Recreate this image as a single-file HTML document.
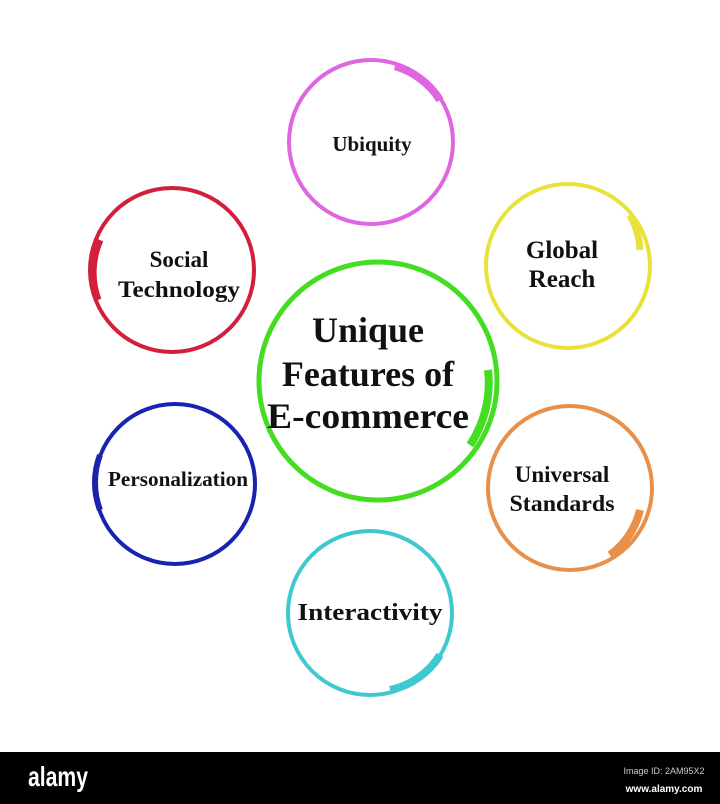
<!DOCTYPE html>
<html><head><meta charset="utf-8"><style>
html,body{margin:0;padding:0;background:#fff;width:720px;height:804px;overflow:hidden}
svg{display:block}
text{font-family:"Liberation Serif",serif;font-weight:bold;fill:#111;text-anchor:middle}
</style></head><body>
<svg width="720" height="804" viewBox="0 0 720 804">
<g fill="none" stroke-width="4">
<circle cx="371" cy="142" r="82" stroke="#e065e0"/>
<path d="M395 66 A80 80 0 0 1 440 100" stroke="#e065e0" stroke-width="8"/>
<circle cx="568" cy="266" r="82" stroke="#e8e23c"/>
<path d="M630 215 A80 80 0 0 1 640 250" stroke="#e8e23c" stroke-width="7"/>
<circle cx="172" cy="270" r="82" stroke="#d2203c"/>
<path d="M100 240 A80 80 0 0 0 98 300" stroke="#d2203c" stroke-width="7"/>
<circle cx="378" cy="381" r="119" stroke="#44dd22" stroke-width="5"/>
<path d="M488 370 A112 112 0 0 1 470 445" stroke="#44dd22" stroke-width="8"/>
<circle cx="175" cy="484" r="80" stroke="#1a22b0"/>
<path d="M100 455 A78 78 0 0 0 100 510" stroke="#1a22b0" stroke-width="6"/>
<circle cx="570" cy="488" r="82" stroke="#e8904a"/>
<path d="M640 510 A78 78 0 0 1 610 555" stroke="#e8904a" stroke-width="8"/>
<circle cx="370" cy="613" r="82" stroke="#40c8d0"/>
<path d="M440 655 A78 78 0 0 1 390 690" stroke="#40c8d0" stroke-width="8"/>
</g>
<text x="372" y="151" font-size="21">Ubiquity</text>
<text x="562" y="258" font-size="25">Global</text>
<text x="562" y="287" font-size="25">Reach</text>
<text x="179" y="267" font-size="23">Social</text>
<text x="179" y="297" font-size="23" textLength="122" lengthAdjust="spacingAndGlyphs">Technology</text>
<text x="368" y="342" font-size="36">Unique</text>
<text x="368" y="386" font-size="36">Features of</text>
<text x="368" y="428" font-size="36" textLength="202" lengthAdjust="spacingAndGlyphs">E-commerce</text>
<text x="178" y="486" font-size="21" textLength="140" lengthAdjust="spacingAndGlyphs">Personalization</text>
<text x="562" y="482" font-size="23">Universal</text>
<text x="562" y="511" font-size="23" textLength="105" lengthAdjust="spacingAndGlyphs">Standards</text>
<text x="370" y="620" font-size="24" textLength="145" lengthAdjust="spacingAndGlyphs">Interactivity</text>
<rect x="0" y="752" width="720" height="52" fill="#000"/>
<text x="58" y="786" font-size="28" textLength="60" lengthAdjust="spacingAndGlyphs" style="fill:#fff;font-family:'Liberation Sans Narrow','Liberation Sans',sans-serif;font-weight:bold">alamy</text>
<text x="664" y="774" font-size="9" style="fill:#ccc;font-family:'Liberation Sans',sans-serif;font-weight:normal">Image ID: 2AM95X2</text>
<text x="664" y="792" font-size="10" style="fill:#fff;font-family:'Liberation Sans',sans-serif">www.alamy.com</text>
</svg>
</body></html>
